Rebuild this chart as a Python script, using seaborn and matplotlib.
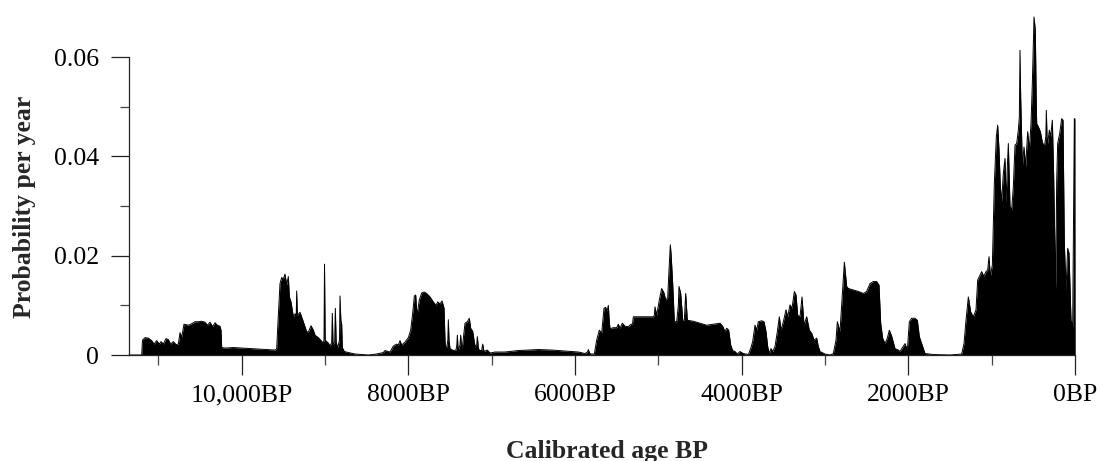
import numpy as np
import pandas as pd
import matplotlib
matplotlib.use("Agg")
import matplotlib.pyplot as plt
from matplotlib.ticker import FixedLocator
import seaborn as sns

# summed probability (age in cal BP, probability per year)
cal_age_bp = [
    11350, 11200, 11190, 11160, 11120, 11080, 11052, 11020, 10988, 10968, 10940, 10908,
    10880, 10852, 10820, 10788, 10760, 10740, 10720, 10692, 10640, 10600, 10560, 10520,
    10480, 10440, 10412, 10380, 10348, 10320, 10292, 10260, 10248, 10240, 10200, 10100,
    10000, 9900, 9800, 9700, 9600, 9580,
    9568, 9540, 9520, 9500, 9480, 9460, 9440, 9428, 9408, 9380, 9360, 9345, 9340, 9332,
    9300, 9260, 9220, 9200, 9168, 9140, 9120, 9080, 9052, 9020, 9012, 9006, 8998, 8960,
    8940, 8920, 8912, 8904, 8884, 8876, 8866, 8848, 8826, 8820, 8810, 8800, 8792, 8768,
    8720, 8640, 8480, 8380, 8300,
    8280, 8220, 8180, 8140, 8120, 8100, 8080, 8040, 8000, 7972, 7948, 7928, 7912, 7900,
    7892, 7868, 7840, 7812, 7780, 7740, 7700, 7668, 7648, 7620, 7596, 7572, 7560, 7556,
    7540, 7526, 7520, 7512, 7500, 7460, 7428, 7418, 7412, 7404, 7396, 7380, 7372, 7362,
    7352, 7336, 7320, 7292, 7268, 7252, 7228, 7212, 7200, 7180, 7172, 7160, 7148, 7120,
    7108, 7092, 7052, 7020, 6960, 6840,
    6680, 6560, 6440, 6280, 6120, 5960, 5880, 5850, 5840, 5828, 5816, 5768, 5740, 5708,
    5680, 5652, 5632, 5616, 5600, 5590, 5580, 5540, 5500, 5480, 5460, 5432, 5400, 5360,
    5328, 5310, 5300,
    5060, 5048, 5040, 5020, 4988, 4960, 4932, 4912, 4888, 4872, 4856, 4846, 4828, 4808,
    4780, 4760, 4752, 4732, 4716, 4708, 4688, 4672, 4652, 4580, 4500, 4420, 4340, 4260,
    4228, 4200, 4180, 4156, 4132, 4108, 4080, 4052, 4020, 3980, 3920,
    3892, 3868, 3840, 3820, 3800, 3760, 3732, 3708, 3688, 3668, 3648, 3628, 3600, 3572,
    3548, 3528, 3500, 3468, 3448, 3420, 3396, 3368, 3348, 3328, 3300, 3276, 3252, 3220,
    3188, 3160, 3132, 3100, 3080, 3060, 3000, 2940, 2900, 2868, 2852, 2820, 2788, 2768,
    2740, 2720, 2660, 2600, 2540, 2500, 2460, 2420, 2380, 2352, 2332, 2308, 2280, 2252,
    2228, 2200, 2160, 2120,
    2100, 2040, 2012, 1988, 1960, 1920, 1892, 1868, 1848, 1828, 1800, 1700, 1500, 1360,
    1332, 1308, 1280, 1252, 1220, 1188, 1168, 1148, 1120, 1092, 1080, 1068, 1048, 1032,
    1016, 992, 968, 944, 928, 912, 896, 880, 860, 840, 828, 812, 800, 780,
    760, 740, 720, 700, 680, 668, 660, 652, 648, 632, 612, 592, 568, 548,
    528, 512, 492, 476, 466, 460, 440, 416, 392, 368, 350, 344, 336, 328,
    308, 292, 272, 256, 240, 232, 220, 208, 184, 160, 144, 128, 108, 88,
    72, 48, 28, 16, 8, 2, 0,
]
prob_per_year = [
    0.0, 0.0, 0.0030, 0.0035, 0.0034, 0.0029, 0.0022, 0.0029, 0.0022, 0.0027, 0.0022, 0.0033,
    0.0031, 0.0022, 0.0027, 0.0021, 0.0022, 0.0045, 0.0036, 0.0062, 0.0060, 0.0063, 0.0067, 0.0067,
    0.0068, 0.0066, 0.0060, 0.0066, 0.0057, 0.0065, 0.0060, 0.0058, 0.0050, 0.0015, 0.0014, 0.0015,
    0.0014, 0.0013, 0.0012, 0.0011, 0.0010, 0.0012,
    0.0054, 0.0144, 0.0156, 0.0153, 0.0163, 0.0141, 0.0158, 0.0117, 0.0107, 0.0077, 0.0083, 0.0080, 0.0129, 0.0080,
    0.0086, 0.0067, 0.0047, 0.0046, 0.0059, 0.0050, 0.0040, 0.0035, 0.0030, 0.0024, 0.0030, 0.0183, 0.0030, 0.0024,
    0.0018, 0.0025, 0.0084, 0.0021, 0.0025, 0.0094, 0.0025, 0.0015, 0.0030, 0.0119, 0.0070, 0.0062, 0.0015, 0.0007,
    0.0005, 0.0002, 0.0000, 0.0002, 0.0005,
    0.0009, 0.0006, 0.0018, 0.0022, 0.0020, 0.0029, 0.0020, 0.0026, 0.0035, 0.0050, 0.0084, 0.0119, 0.0121, 0.0090,
    0.0084, 0.0111, 0.0125, 0.0127, 0.0124, 0.0117, 0.0107, 0.0100, 0.0107, 0.0103, 0.0109, 0.0095, 0.0030, 0.0017,
    0.0015, 0.0030, 0.0071, 0.0030, 0.0013, 0.0009, 0.0010, 0.0020, 0.0040, 0.0015, 0.0012, 0.0020, 0.0040, 0.0015,
    0.0015, 0.0040, 0.0064, 0.0067, 0.0074, 0.0054, 0.0048, 0.0030, 0.0018, 0.0020, 0.0037, 0.0015, 0.0009, 0.0009,
    0.0022, 0.0007, 0.0010, 0.0004, 0.0006, 0.0006,
    0.0009, 0.0010, 0.0011, 0.0010, 0.0008, 0.0006, 0.0003, 0.0006, 0.0011, 0.0005, 0.0002, 0.0002, 0.0030, 0.0050,
    0.0044, 0.0094, 0.0096, 0.0088, 0.0100, 0.0070, 0.0053, 0.0055, 0.0055, 0.0062, 0.0054, 0.0064, 0.0058, 0.0057,
    0.0062, 0.0062, 0.0077,
    0.0077, 0.0080, 0.0097, 0.0080, 0.0111, 0.0134, 0.0125, 0.0111, 0.0115, 0.0171, 0.0222, 0.0200, 0.0144, 0.0067,
    0.0067, 0.0100, 0.0138, 0.0124, 0.0090, 0.0070, 0.0070, 0.0124, 0.0070, 0.0068, 0.0064, 0.0060, 0.0062, 0.0064,
    0.0058, 0.0047, 0.0054, 0.0050, 0.0020, 0.0009, 0.0007, 0.0002, 0.0007, 0.0003, 0.0001,
    0.0013, 0.0027, 0.0060, 0.0050, 0.0067, 0.0069, 0.0067, 0.0047, 0.0017, 0.0003, 0.0013, 0.0007, 0.0017, 0.0047,
    0.0077, 0.0050, 0.0067, 0.0091, 0.0077, 0.0101, 0.0094, 0.0128, 0.0121, 0.0080, 0.0077, 0.0117, 0.0060, 0.0077,
    0.0050, 0.0044, 0.0030, 0.0034, 0.0017, 0.0007, 0.0002, 0.0000, 0.0003, 0.0030, 0.0067, 0.0047, 0.0131, 0.0187,
    0.0138, 0.0134, 0.0131, 0.0128, 0.0124, 0.0128, 0.0144, 0.0148, 0.0148, 0.0141, 0.0064, 0.0034, 0.0023, 0.0034,
    0.0050, 0.0038, 0.0013, 0.0010,
    0.0007, 0.0023, 0.0010, 0.0067, 0.0074, 0.0074, 0.0070, 0.0037, 0.0027, 0.0017, 0.0003, 0.0001, 0.0000, 0.0002,
    0.0023, 0.0070, 0.0117, 0.0087, 0.0077, 0.0091, 0.0151, 0.0158, 0.0168, 0.0158, 0.0164, 0.0168, 0.0171, 0.0198,
    0.0158, 0.0181, 0.0346, 0.0440, 0.0463, 0.0413, 0.0339, 0.0309, 0.0366, 0.0396, 0.0305, 0.0379, 0.0426, 0.0299,
    0.0292, 0.0339, 0.0423, 0.0426, 0.0453, 0.0480, 0.0614, 0.0520, 0.0493, 0.0379, 0.0419, 0.0379, 0.0450, 0.0413,
    0.0466, 0.0547, 0.0681, 0.0654, 0.0520, 0.0466, 0.0460, 0.0450, 0.0429, 0.0419, 0.0440, 0.0493, 0.0440, 0.0426,
    0.0453, 0.0440, 0.0473, 0.0359, 0.0200, 0.0131, 0.0350, 0.0426, 0.0446, 0.0476, 0.0473, 0.0225, 0.0131, 0.0215,
    0.0205, 0.0070, 0.0057, 0.0300, 0.0476, 0.0476, 0.0,
]

x_major = [10000, 8000, 6000, 4000, 2000, 0]
x_major_labels = ["10,000BP", "8000BP", "6000BP", "4000BP", "2000BP", "0BP"]
x_minor = [11000, 9000, 7000, 5000, 3000, 1000]
y_major = [0, 0.02, 0.04, 0.06]
y_major_labels = ["0", "0.02", "0.04", "0.06"]
y_minor = [0.01, 0.03, 0.05]

df = pd.DataFrame({"age": cal_age_bp, "prob": prob_per_year})

sns.set_theme(style="ticks")
plt.rcParams['font.family'] = ['Liberation Serif', 'DejaVu Serif']
plt.rcParams['axes.unicode_minus'] = False

fig = plt.figure(figsize=(11.01, 4.61), dpi=100)
ax = fig.add_axes([129 / 1101, 106 / 461, 956 / 1101, 345 / 461])

# 黑色填充的概率曲线
ax.fill_between(df["age"], df["prob"], 0, color="black", linewidth=0)
sns.lineplot(data=df, x="age", y="prob", color="black", linewidth=0.7,
             sort=False, ax=ax, clip_on=False)

ax.set_xlim(11352, -120)
ax.set_ylim(0, 0.0695)

ax.spines['top'].set_visible(False)
ax.spines['right'].set_visible(False)
ax.spines['left'].set_bounds(0, 0.06)
ax.spines['bottom'].set_bounds(11352, 0)
for s in ['left', 'bottom']:
    ax.spines[s].set_color('#222222')
    ax.spines[s].set_linewidth(0.9)

ax.xaxis.set_major_locator(FixedLocator(x_major))
ax.xaxis.set_minor_locator(FixedLocator(x_minor))
ax.set_xticklabels(x_major_labels)
ax.yaxis.set_major_locator(FixedLocator(y_major))
ax.yaxis.set_minor_locator(FixedLocator(y_minor))
ax.set_yticklabels(y_major_labels)

ax.tick_params(axis='x', which='major', length=14.4, width=0.9, pad=6.6,
               labelsize=18.5, color='#222222', labelcolor='black', direction='out')
ax.tick_params(axis='x', which='minor', length=7, width=0.9, color='#444444', direction='out')
ax.tick_params(axis='y', which='major', length=13, width=0.9, pad=8.6,
               labelsize=18.5, color='#222222', labelcolor='black', direction='out')
ax.tick_params(axis='y', which='minor', length=6.5, width=0.9, color='#444444', direction='out')

ax.set_xlabel("Calibrated age BP", fontsize=18.5, fontweight='bold')
ax.set_ylabel("Probability per year", fontsize=18.5, fontweight='bold')
ax.xaxis.set_label_coords(0.5, -0.246)
ax.yaxis.set_label_coords(-0.0973, 0.429)

fig.savefig("out.png", dpi=100)
plt.close(fig)
